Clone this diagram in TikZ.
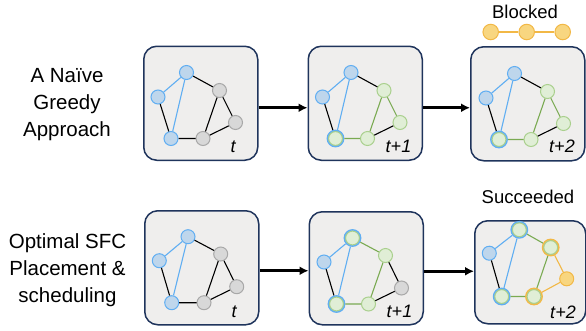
\documentclass[tikz,border=0pt]{standalone}
\usepackage{fontspec}
\setmainfont{Liberation Sans}
\usetikzlibrary{arrows.meta}

\definecolor{panelfill}{RGB}{239,238,237}
\definecolor{panelline}{RGB}{31,52,92}
\definecolor{bfill}{RGB}{190,214,236}
\definecolor{bline}{RGB}{96,174,242}
\definecolor{gfill}{RGB}{224,238,214}
\definecolor{gline}{RGB}{170,208,142}
\definecolor{gedge}{RGB}{122,170,82}
\definecolor{kfill}{RGB}{216,216,216}
\definecolor{kline}{RGB}{168,168,168}
\definecolor{ofill}{RGB}{248,214,128}
\definecolor{oline}{RGB}{242,184,70}

\begin{document}
\begin{tikzpicture}[x=1pt, y=-1pt, panel/.style={draw=panelline, line width=1.5pt, fill=panelfill, rounded corners=13pt, minimum width=114pt, minimum height=114pt, anchor=north west, inner sep=0pt}, vm/.style={circle, inner sep=0pt, minimum size=14pt, line width=1pt}, bnode/.style={vm, fill=bfill, draw=bline}, knode/.style={vm, fill=kfill, draw=kline}, gnode/.style={vm, fill=gfill, draw=gline}, onode/.style={vm, minimum size=15.5pt, fill=ofill, draw=oline}, ring/.style={vm, minimum size=16.5pt, fill=gfill, draw=#1, line width=1.3pt, path picture={\draw[gline, line width=1.4pt] (path picture bounding box.center) circle (7.1pt);}}, link/.style={line width=1.1pt}, blink/.style={link, bline}, glink/.style={link, gedge}, olink/.style={link, oline}, move/.style={-{Latex[length=9pt,width=9pt]}, line width=2.6pt}, stamp/.style={font=\fontsize{18}{18}\selectfont\itshape}, caption/.style={font=\fontsize{20.5}{27}\selectfont, align=center}]
\useasboundingbox (0,0) rectangle (586,330);

% row labels
\node[caption] (greedy) at (67,105) {A Naïve\\Greedy\\Approach};
\node[caption] (optimal) at (67.5,270) {Optimal SFC\\Placement \&\\scheduling};

% greedy, t
\begin{scope}[shift={(143,45.5)}]
\node[panel] (p1) at (0,0) {};
\node[bnode] (a1) at (43.5,27) {}; \node[bnode] (b1) at (15,51.5) {}; \node[bnode] (c1) at (28,93) {};
\node[knode] (d1) at (60,93) {}; \node[knode] (e1) at (76.5,45) {}; \node[knode] (f1) at (92.5,77) {};
\node[stamp] (t1) at (90,101) {t};
\draw[blink] (a1)--(b1) (a1)--(c1);
\draw[link] (b1)--(c1) (c1)--(d1) (a1)--(e1) (e1)--(d1) (e1)--(f1) (d1)--(f1);
\end{scope}

% greedy, t+1
\begin{scope}[shift={(307.5,45.5)}]
\node[panel] (p2) at (0,0) {};
\node[bnode] (a2) at (43.5,27) {}; \node[bnode] (b2) at (15,51.5) {}; \node[ring=bline] (c2) at (28,93) {};
\node[gnode] (d2) at (60,93) {}; \node[gnode] (e2) at (76.5,45) {}; \node[gnode] (f2) at (92.5,77) {};
\node[stamp] (t2) at (91,100.5) {t+1};
\draw[blink] (a2)--(b2) (a2)--(c2);
\draw[link] (b2)--(c2) (a2)--(e2) (d2)--(f2);
\draw[glink] (c2)--(d2) (e2)--(d2) (e2)--(f2);
\end{scope}

% greedy, t+2
\begin{scope}[shift={(470,46)}]
\node[panel] (p3) at (0,0) {};
\node[bnode] (a3) at (44.5,27.5) {}; \node[bnode] (b3) at (16,52) {}; \node[ring=bline] (c3) at (29,93.5) {};
\node[gnode] (d3) at (61,93.5) {}; \node[gnode] (e3) at (77.5,45.5) {}; \node[gnode] (f3) at (93.5,77.5) {};
\node[stamp] (t3) at (92,100.5) {t+2};
\draw[blink] (a3)--(b3) (a3)--(c3);
\draw[link] (b3)--(c3) (a3)--(e3) (d3)--(f3);
\draw[glink] (c3)--(d3) (e3)--(d3) (e3)--(f3);
\end{scope}

% blocked chain
\node (blk) at (525,12) {\fontsize{18.5}{20}\selectfont Blocked};
\node[onode] (o1) at (490.7,32) {}; \node[onode] (o2) at (526.7,32) {}; \node[onode] (o3) at (562.7,32) {};
\draw[olink] (o1)--(o2) (o2)--(o3);

% optimal, t
\begin{scope}[shift={(144,210)}]
\node[panel] (p4) at (0,0) {};
\node[bnode] (a4) at (44,26.7) {}; \node[bnode] (b4) at (15.3,50.7) {}; \node[bnode] (c4) at (27.7,92.7) {};
\node[knode] (d4) at (60,92.7) {}; \node[knode] (e4) at (76.7,44) {}; \node[knode] (f4) at (92.7,76.7) {};
\node[stamp] (t4) at (90,101.5) {t};
\draw[blink] (a4)--(b4) (a4)--(c4);
\draw[link] (b4)--(c4) (c4)--(d4) (a4)--(e4) (e4)--(d4) (e4)--(f4) (d4)--(f4);
\end{scope}

% optimal, t+1
\begin{scope}[shift={(308.5,211)}]
\node[panel, minimum height=113pt] (p5) at (0,0) {};
\node[ring=bline] (a5) at (44,27) {}; \node[bnode] (b5) at (15.5,51) {}; \node[ring=bline] (c5) at (28,93) {};
\node[gnode] (d5) at (60,93) {}; \node[gnode] (e5) at (77,44.5) {}; \node[knode] (f5) at (93,77) {};
\node[stamp] (t5) at (91,100.5) {t+1};
\draw[blink] (a5)--(b5) (a5)--(c5);
\draw[link] (b5)--(c5) (e5)--(f5) (d5)--(f5);
\draw[glink] (c5)--(d5) (a5)--(e5) (e5)--(d5);
\end{scope}

% optimal, t+2
\node (suc) at (528,197) {\fontsize{18.5}{20}\selectfont Succeeded};
\begin{scope}[shift={(474,211.5)}]
\node[panel, minimum width=111pt, minimum height=103pt] (p6) at (0,8.5) {};
\node[ring=bline] (a6) at (45.3,18.3) {}; \node[bnode] (b6) at (15.3,41.7) {}; \node[ring=bline] (c6) at (27.7,85) {};
\node[ring=oline] (d6) at (60,85) {}; \node[ring=oline] (e6) at (76.7,36) {}; \node[onode, minimum size=14pt] (f6) at (92.7,67.3) {};
\node[stamp] (t6) at (89,101) {t+2};
\draw[blink] (a6)--(b6) (a6)--(c6);
\draw[link] (b6)--(c6);
\draw[glink] (c6)--(d6) (a6)--(e6) (e6)--(d6);
\draw[olink] (e6)--(f6) (d6)--(f6);
\end{scope}

% time steps
\draw[move] ([yshift=-4.5pt]p1.east) -- ([yshift=-4.5pt]p2.west);
\draw[move] ([yshift=-4.5pt]p2.east) -- ([yshift=-4pt]p3.west);
\draw[move] ([yshift=-3pt]p4.east) -- ([yshift=-2.5pt]p5.west);
\draw[move] ([yshift=-3pt]p5.east) -- ([yshift=1pt]p6.west);
\end{tikzpicture}
\end{document}
